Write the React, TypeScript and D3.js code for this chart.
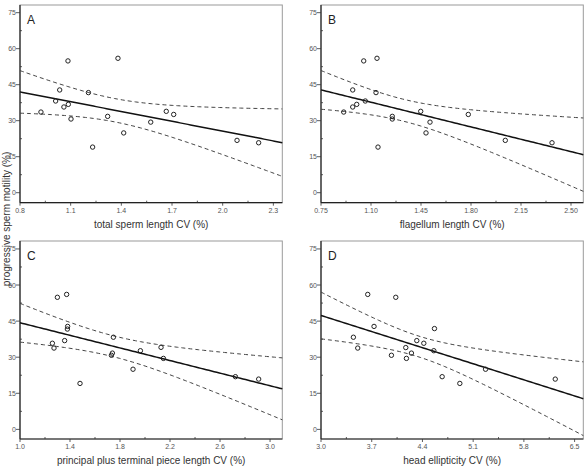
import React from "react";
import * as d3 from "d3";

// progressive sperm motility (%) vs. each CV measure
const totalLengthCV = [0.924, 1.011, 1.035, 1.084, 1.06, 1.086, 1.102, 1.205, 1.23, 1.319, 1.38, 1.414, 1.574, 1.666, 1.71, 2.085, 2.213];
const motilityA = [33.6, 38.2, 42.8, 54.9, 35.7, 36.8, 30.7, 41.7, 19.0, 31.8, 56.0, 24.9, 29.4, 33.9, 32.6, 21.8, 20.8];

const flagellumCV = [0.909, 0.972, 0.972, 1.0, 1.06, 1.049, 1.135, 1.142, 1.149, 1.249, 1.249, 1.448, 1.485, 1.513, 1.781, 2.04, 2.367];
const motilityB = [33.6, 42.8, 35.7, 36.8, 38.2, 54.9, 41.7, 56.0, 19.0, 31.8, 30.7, 33.9, 24.9, 29.4, 32.6, 21.8, 20.8];

const principalCV = [1.259, 1.272, 1.299, 1.357, 1.373, 1.381, 1.379, 1.48, 1.731, 1.739, 1.747, 1.904, 1.963, 2.128, 2.147, 2.723, 2.909];
const motilityC = [35.8, 33.8, 54.9, 36.9, 56.1, 42.8, 41.7, 19.1, 30.8, 31.7, 38.3, 25.0, 32.7, 34.1, 29.5, 21.9, 20.9];

const headEllipticityCV = [3.447, 3.507, 3.645, 3.732, 3.972, 4.032, 4.17, 4.179, 4.248, 4.322, 4.419, 4.566, 4.557, 4.672, 4.916, 5.271, 6.233];
const motilityD = [38.3, 33.8, 56.1, 42.8, 30.8, 54.9, 34.0, 29.5, 31.7, 36.9, 35.8, 41.9, 32.7, 21.9, 19.1, 25.0, 20.9];

const panelLetters = ["A", "B", "C", "D"];
const xLabels = [
  "total sperm length CV (%)",
  "flagellum length CV (%)",
  "principal plus terminal piece length CV (%)",
  "head ellipticity CV (%)",
];
const xTicksA = ["0.8", "1.1", "1.4", "1.7", "2.0", "2.3"];
const xTicksB = ["0.75", "1.10", "1.45", "1.80", "2.15", "2.50"];
const xTicksC = ["1.0", "1.4", "1.8", "2.2", "2.6", "3.0"];
const xTicksD = ["3.0", "3.7", "4.4", "5.1", "5.8", "6.5"];
const yTicks = ["0", "15", "30", "45", "60", "75"];
const yAxisTitle = "progressive sperm motility (%)";

const FONT = "'Liberation Sans', Arial, Helvetica, sans-serif";

type PanelDef = {
  xs: number[];
  ys: number[];
  letter: string;
  label: string;
  ticks: string[];
  box: [number, number, number, number]; // left, right, top, bottom
  xDomain: [number, number];
  yDomain: [number, number];
};

const panels: PanelDef[] = [
  { xs: totalLengthCV, ys: motilityA, letter: panelLetters[0], label: xLabels[0], ticks: xTicksA, box: [20, 282.3, 5, 202.7], xDomain: [0.8, 2.353], yDomain: [-4.17, 78.2] },
  { xs: flagellumCV, ys: motilityB, letter: panelLetters[1], label: xLabels[1], ticks: xTicksB, box: [321, 583.3, 5, 202.7], xDomain: [0.75, 2.586], yDomain: [-4.17, 78.2] },
  { xs: principalCV, ys: motilityC, letter: panelLetters[2], label: xLabels[2], ticks: xTicksC, box: [20, 282.3, 241, 439], xDomain: [1.0, 3.098], yDomain: [-4.0, 78.3] },
  { xs: headEllipticityCV, ys: motilityD, letter: panelLetters[3], label: xLabels[3], ticks: xTicksD, box: [321, 583.3, 241, 439], xDomain: [3.0, 6.62], yDomain: [-4.0, 78.3] },
];

function fit(xs: number[], ys: number[]) {
  const n = xs.length;
  const mx = d3.mean(xs)!;
  const my = d3.mean(ys)!;
  let sxx = 0, sxy = 0, syy = 0;
  for (let i = 0; i < n; i++) {
    sxx += (xs[i] - mx) ** 2;
    sxy += (xs[i] - mx) * (ys[i] - my);
    syy += (ys[i] - my) ** 2;
  }
  const b = sxy / sxx;
  const a = my - b * mx;
  const s = Math.sqrt((syy - (sxy * sxy) / sxx) / (n - 2));
  const t = 2.131; // t(0.975, 15)
  const half = (x: number) => t * s * Math.sqrt(1 / n + (x - mx) ** 2 / sxx);
  return { a, b, half };
}

function Panel({ p }: { p: PanelDef }) {
  const [L, R, T, B] = p.box;
  const x = d3.scaleLinear().domain(p.xDomain).range([L, R]);
  const y = d3.scaleLinear().domain(p.yDomain).range([B, T]);
  const { a, b, half } = fit(p.xs, p.ys);
  const grid = d3.range(0, 101).map((i) => p.xDomain[0] + ((p.xDomain[1] - p.xDomain[0]) * i) / 100);
  const fitPath = d3.line<number>().x((v) => x(v)).y((v) => y(a + b * v))(grid)!;
  const upPath = d3.line<number>().x((v) => x(v)).y((v) => y(a + b * v + half(v)))(grid)!;
  const loPath = d3.line<number>().x((v) => x(v)).y((v) => y(a + b * v - half(v)))(grid)!;
  const xt = p.ticks.map(Number);
  const step = xt[1] - xt[0];
  const xMinor = xt.map((v) => v + step / 2).filter((v) => v <= p.xDomain[1]);
  const yt = yTicks.map(Number);
  const yMinor = yt.map((v) => v + 7.5).filter((v) => v <= p.yDomain[1]);
  const cx = (L + R) / 2;
  return (
    <g>
      <rect x={L} y={T} width={R - L} height={B - T} fill="none" stroke="#9a9a9a" strokeWidth={1} />
      <line x1={L} x2={L} y1={T} y2={B} stroke="#222" strokeWidth={1.2} />
      <line x1={L} x2={R} y1={B} y2={B} stroke="#222" strokeWidth={1.2} />
      {yt.map((v, i) => (
        <g key={"y" + i}>
          <line x1={L - 4} x2={L} y1={y(v)} y2={y(v)} stroke="#333" strokeWidth={0.8} />
          <text x={L - 4} y={y(v) + 2.5} fontSize={7} textAnchor="end" fill="#555" fontFamily={FONT}>{yTicks[i]}</text>
        </g>
      ))}
      {yMinor.map((v, i) => (
        <line key={"ym" + i} x1={L} x2={L + 2} y1={y(v)} y2={y(v)} stroke="#333" strokeWidth={0.8} />
      ))}
      {xt.map((v, i) => (
        <g key={"x" + i}>
          <line x1={x(v)} x2={x(v)} y1={B} y2={B + 3} stroke="#333" strokeWidth={0.8} />
          <text x={x(v)} y={B + 10} fontSize={7} textAnchor="middle" fill="#555" fontFamily={FONT}>{p.ticks[i]}</text>
        </g>
      ))}
      {xMinor.map((v, i) => (
        <line key={"xm" + i} x1={x(v)} x2={x(v)} y1={B - 2} y2={B} stroke="#333" strokeWidth={0.8} />
      ))}
      <path d={upPath} fill="none" stroke="#444" strokeWidth={1} strokeDasharray="4,3" />
      <path d={loPath} fill="none" stroke="#444" strokeWidth={1} strokeDasharray="4,3" />
      <path d={fitPath} fill="none" stroke="#111" strokeWidth={1.5} />
      {p.xs.map((v, i) => (
        <circle key={"c" + i} cx={x(v)} cy={y(p.ys[i])} r={2.2} fill="none" stroke="#222" strokeWidth={1} />
      ))}
      <text x={L + 7} y={T + 19} fontSize={12} fill="#222" fontFamily={FONT}>{p.letter}</text>
      <text x={cx} y={B + 25} fontSize={10} textAnchor="middle" fill="#333" fontFamily={FONT}>{p.label}</text>
    </g>
  );
}

export default function App() {
  return (
    <svg width={585} height={467} style={{ position: "absolute", left: 0, top: 0, background: "#fff" }}>
      <rect x={0} y={0} width={585} height={467} fill="#fff" />
      {panels.map((p, i) => (
        <Panel key={i} p={p} />
      ))}
      <text transform="translate(9.5,219) rotate(-90)" fontSize={10} textAnchor="middle" fill="#333" fontFamily={FONT}>{yAxisTitle}</text>
    </svg>
  );
}
